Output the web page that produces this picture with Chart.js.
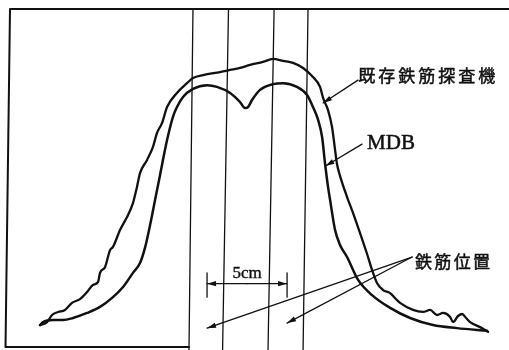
<!DOCTYPE html>
<html>
<head>
<meta charset="utf-8">
<script src="https://cdn.jsdelivr.net/npm/chart.js@4/dist/chart.umd.min.js"></script>
<style>
  html, body { margin: 0; padding: 0; background: #fff; }
  #c { display: block; }
</style>
</head>
<body>
<canvas id="c" width="509" height="350"></canvas>
<script>
// Scan position along the slab surface (mm) and detector output (% of full scale)
const existingX = [20.0, 24.4, 27.5, 31.3, 35.6, 40.0, 45.0, 49.4, 53.1, 56.3, 57.5, 60.6, 63.8, 65.6, 70.0, 74.4,
  78.1, 80.6, 82.5, 86.9, 90.6, 93.1, 96.3, 99.4, 105.6, 111.9, 115.6, 121.9, 132.5, 138.8, 145.0, 151.3, 159.4,
  165.6, 171.9, 178.1, 184.4, 190.6, 195.0, 196.9, 200.0, 202.5, 204.4, 205.6, 207.5, 211.9, 215.6, 220.0, 224.4,
  227.5, 230.6, 234.4, 238.8, 243.1, 245.0, 253.1, 259.4, 263.8, 268.1, 271.9, 276.3, 278.1, 281.3, 283.8, 286.3,
  288.8, 295.0, 300.0];
const existingY = [6.2, 7.1, 9.2, 10.1, 10.7, 12.8, 13.9, 16.0, 18.1, 19.0, 21.7, 23.4, 28.5, 29.4, 34.4, 38.3,
  42.4, 47.2, 51.3, 55.2, 59.1, 63.2, 66.2, 70.9, 75.1, 78.0, 79.5, 80.4, 81.3, 81.9, 82.5, 83.4, 84.3,
  85.2, 84.6, 84.0, 82.5, 79.8, 76.9, 73.6, 70.0, 65.0, 58.2, 54.0, 50.5, 44.2, 39.5, 33.5, 27.3,
  22.6, 18.7, 16.6, 15.7, 13.6, 12.8, 10.7, 10.1, 10.7, 9.2, 9.8, 8.6, 7.1, 8.9, 9.5, 8.3,
  7.1, 5.6, 4.2];

const mdbX = [20.0, 21.9, 28.1, 34.4, 40.6, 49.4, 57.5, 65.6, 71.9, 78.1, 82.5, 85.6, 88.8, 91.9, 95.0, 99.4,
  103.1, 105.6, 109.4, 115.6, 124.4, 130.6, 138.8, 145.0, 148.1, 150.0, 152.5, 157.5, 165.6, 171.9, 180.6, 186.9,
  190.6, 193.8, 196.3, 198.1, 200.0, 201.3, 204.4, 207.5, 211.9, 218.8, 227.5, 238.8, 251.3, 265.6, 280.6, 299.4];
const mdbY = [6.2, 7.1, 7.7, 7.7, 8.3, 9.8, 11.6, 14.5, 17.5, 21.7, 24.6, 29.1, 35.9, 43.3, 50.7, 61.1,
  68.0, 70.9, 73.9, 76.3, 77.4, 76.9, 75.1, 72.4, 70.6, 70.9, 73.0, 76.0, 77.7, 78.0, 76.9, 74.5,
  70.9, 67.1, 62.0, 54.3, 47.2, 43.3, 34.4, 30.0, 26.4, 19.6, 15.1, 11.3, 8.3, 6.2, 5.3, 4.5];

// Rebar edges (mm) at the top and the bottom of the record sheet
const rebarEdgeTop = [115.6, 137.8, 166.3, 187.5];
const rebarEdgeBottom = [113.1, 134.1, 162.5, 184.4];
// Rebar centres (mm): 50 mm apart
const rebarCenters = [124.4, 174.4];

// Text labels
const labelExisting = '既存鉄筋探査機';
const labelMdb = 'MDB';
const labelRebar = '鉄筋位置';
const labelSpacing = '5cm';

// Axis ranges (mm, %)
const X_MIN = -5, X_MAX = 313.1;
const Y_MIN = -1.19, Y_MAX = 102.67;
const Y_TOP = 100; // upper edge of the record

// Callout layout (in data units)
const callouts = {
  existing: { from: [218.75, 78.9], to: [196.9, 72.1], text: [218.9, 80.4], size: 17, adv: 20 },
  mdb:      { from: [221.25, 59.9], to: [198.4, 53.4], text: [224.4, 60.2], size: 21 },
  rebar:    { from: [252.5, 26.4], tips: [[124.4, 5.3], [174.4, 6.8]], text: [254.4, 25.2], size: 17, adv: 19.3 },
  spacing:  { lineY: 18.5, tickTop: 21.7, tickBottom: 14.5, textY: 21.6, size: 17 }
};

function curve(xs, ys) { return xs.map((x, i) => ({ x, y: ys[i] })); }

const datasets = [
  { data: curve(existingX, existingY), borderWidth: 2.3, cubicInterpolationMode: 'monotone' },
  { data: curve(mdbX, mdbY), borderWidth: 2.5, cubicInterpolationMode: 'monotone' }
];
rebarEdgeTop.forEach((xt, i) => {
  datasets.push({
    data: [{ x: xt, y: Y_TOP }, { x: rebarEdgeBottom[i], y: Y_MIN }],
    borderWidth: 1.3
  });
});
datasets.forEach(d => {
  d.borderColor = '#111';
  d.pointRadius = 0;
  d.showLine = true;
  d.fill = false;
  d.borderCapStyle = 'round';
  d.borderJoinStyle = 'round';
});

function arrow(ctx, x0, y0, x1, y1, len, half) {
  ctx.beginPath();
  ctx.moveTo(x0, y0);
  ctx.lineTo(x1, y1);
  ctx.stroke();
  const a = Math.atan2(y1 - y0, x1 - x0);
  ctx.beginPath();
  ctx.moveTo(x1, y1);
  ctx.lineTo(x1 - len * Math.cos(a) + half * Math.sin(a), y1 - len * Math.sin(a) - half * Math.cos(a));
  ctx.lineTo(x1 - len * Math.cos(a) - half * Math.sin(a), y1 - len * Math.sin(a) + half * Math.cos(a));
  ctx.closePath();
  ctx.fill();
}

// Filled text with a thin outline so the glyphs read as heavy as printed type
function inkText(ctx, ch, x, y) {
  ctx.fillText(ch, x, y);
  ctx.strokeText(ch, x, y);
}

function spacedText(ctx, str, x, y, adv) {
  [...str].forEach((ch, i) => inkText(ctx, ch, x + i * adv, y));
}

const overlay = {
  id: 'overlay',
  afterDatasetsDraw(chart) {
    const ctx = chart.ctx;
    const sx = v => chart.scales.x.getPixelForValue(v);
    const sy = v => chart.scales.y.getPixelForValue(v);
    ctx.save();
    ctx.strokeStyle = '#111';
    ctx.fillStyle = '#111';
    ctx.lineCap = 'round';
    ctx.lineJoin = 'round';

    // record frame
    ctx.lineWidth = 2;
    ctx.beginPath();
    ctx.moveTo(chart.chartArea.right, sy(Y_TOP));
    ctx.lineTo(sx(1.25), sy(Y_TOP));
    ctx.lineTo(sx(-1.56), sy(-0.3));
    ctx.lineTo(sx(rebarEdgeBottom[0]), sy(-0.3));
    ctx.stroke();

    // callout: existing detector
    ctx.lineWidth = 1.3;
    let c = callouts.existing;
    arrow(ctx, sx(c.from[0]), sy(c.from[1]), sx(c.to[0]), sy(c.to[1]), 9, 2.6);
    ctx.textBaseline = 'middle';
    ctx.lineWidth = 0.5;
    ctx.font = c.size + 'px "Noto Sans CJK JP"';
    spacedText(ctx, labelExisting, sx(c.text[0]), sy(c.text[1]), c.adv);

    // callout: MDB
    ctx.lineWidth = 1.3;
    c = callouts.mdb;
    arrow(ctx, sx(c.from[0]), sy(c.from[1]), sx(c.to[0]), sy(c.to[1]), 9, 2.6);
    ctx.lineWidth = 0.5;
    ctx.font = c.size + 'px "Liberation Serif"';
    inkText(ctx, labelMdb, sx(c.text[0]), sy(c.text[1]));

    // callout: rebar positions
    ctx.lineWidth = 1.3;
    c = callouts.rebar;
    c.tips.forEach(t => arrow(ctx, sx(c.from[0]), sy(c.from[1]), sx(t[0]), sy(t[1]), 9, 2.6));
    ctx.lineWidth = 0.5;
    ctx.font = c.size + 'px "Noto Sans CJK JP"';
    spacedText(ctx, labelRebar, sx(c.text[0]), sy(c.text[1]), c.adv);

    // 5 cm spacing dimension between the rebar centres
    c = callouts.spacing;
    const xl = sx(rebarCenters[0]), xr = sx(rebarCenters[1]);
    const ym = sy(c.lineY);
    ctx.lineWidth = 1.3;
    ctx.beginPath();
    ctx.moveTo(xl, sy(c.tickTop)); ctx.lineTo(xl, sy(c.tickBottom));
    ctx.moveTo(xr, sy(c.tickTop)); ctx.lineTo(xr, sy(c.tickBottom));
    ctx.stroke();
    arrow(ctx, (xl + xr) / 2, ym, xl, ym, 9, 2.6);
    arrow(ctx, (xl + xr) / 2, ym, xr, ym, 9, 2.6);
    ctx.lineWidth = 0.4;
    ctx.font = c.size + 'px "Liberation Serif"';
    ctx.textAlign = 'center';
    inkText(ctx, labelSpacing, (xl + xr) / 2, sy(c.textY));
    ctx.restore();
  }
};

new Chart(document.getElementById('c'), {
  type: 'scatter',
  data: { datasets },
  options: {
    responsive: false,
    animation: false,
    devicePixelRatio: 1,
    layout: { padding: 0 },
    plugins: { legend: { display: false }, tooltip: { enabled: false } },
    scales: {
      x: { type: 'linear', min: X_MIN, max: X_MAX, display: false },
      y: { type: 'linear', min: Y_MIN, max: Y_MAX, display: false }
    },
    elements: { line: { tension: 0 } }
  },
  plugins: [overlay]
});
</script>
</body>
</html>
